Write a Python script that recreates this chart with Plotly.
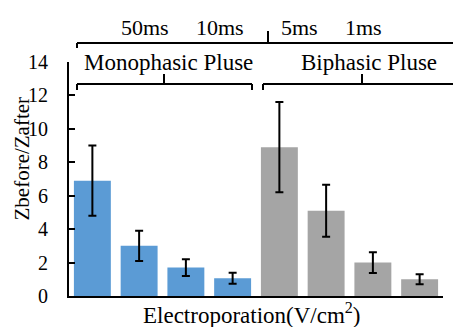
import plotly.graph_objects as go

categories = ["Mono-1", "Mono-2", "Mono-3", "Mono-4", "Bi-1", "Bi-2", "Bi-3", "Bi-4"]
values = [6.9, 3.0, 1.7, 1.06, 8.9, 5.1, 2.0, 1.0]
errors = [2.1, 0.9, 0.5, 0.33, 2.7, 1.55, 0.62, 0.3]
group = ["mono", "mono", "mono", "mono", "bi", "bi", "bi", "bi"]
group_colors = {"mono": "#5B9BD5", "bi": "#A5A5A5"}
y_ticks = [0, 2, 4, 6, 8, 10, 12, 14]

W, H = 453, 327
L, R, T, B = 69, 10, 62, 31

FONT = "Liberation Serif"

fig = go.Figure()
fig.add_trace(go.Bar(
    x=categories, y=values,
    marker=dict(color=[group_colors[g] for g in group], line=dict(width=0)),
    error_y=dict(type="data", array=errors, color="black", thickness=2, width=4),
))

pw = W - L - R
ph = H - T - B

def px(x):
    return (x - L) / pw

def py(y):
    return (H - B - y) / ph

def seg(x0, y0, x1, y1):
    return dict(type="line", xref="paper", yref="paper",
                x0=px(x0), y0=py(y0), x1=px(x1), y1=py(y1),
                line=dict(color="black", width=2))

shapes = [
    # upper bracket
    seg(77, 43, 470, 43), seg(77, 43, 77, 48), seg(268, 43, 268, 31),
    # lower left bracket
    seg(77, 84, 252, 84), seg(77, 84, 77, 90), seg(252, 84, 252, 90), seg(164, 84, 164, 74),
    # lower right bracket
    seg(263, 84, 470, 84), seg(263, 84, 263, 90), seg(362, 84, 362, 74),
]

def ann(text, x, y, size=22, angle=0):
    return dict(text=text, xref="paper", yref="paper", x=px(x), y=py(y),
                xanchor="center", yanchor="middle", showarrow=False,
                textangle=angle,
                font=dict(family=FONT, size=size, color="black"))

annotations = [
    ann("50ms", 144.5, 27), ann("10ms", 220, 27), ann("5ms", 299, 27), ann("1ms", 363, 27),
    ann("Monophasic Pluse", 168, 62, 23), ann("Biphasic Pluse", 369, 62, 23),
    ann("Electroporation(V/cm<sup>2</sup>)", 251.5, 313, 23),
    ann("Zbefore/Zafter", 21.5, 159, 21, -90),
]

fig.update_layout(
    width=W, height=H,
    margin=dict(l=L, r=R, t=T, b=B, autoexpand=False),
    paper_bgcolor="white", plot_bgcolor="white",
    font=dict(family=FONT, size=21, color="black"),
    bargap=0.21,
    showlegend=False,
    shapes=shapes,
    annotations=annotations,
    xaxis=dict(showticklabels=False, ticks="", showline=True, linecolor="black",
               linewidth=2, showgrid=False, zeroline=False, automargin=False),
    yaxis=dict(range=[0, 14], tickvals=y_ticks, ticks="inside", ticklen=6,
               tickwidth=2, tickcolor="black", showline=True, linecolor="black",
               linewidth=2, showgrid=False, zeroline=False, ticklabelstandoff=15,
               automargin=False,
               tickfont=dict(family=FONT, size=20)),
)

fig.write_html(
    "out.html",
    config={"displayModeBar": False},
    post_script="document.body.style.margin='0';document.body.style.overflow='hidden';",
)
